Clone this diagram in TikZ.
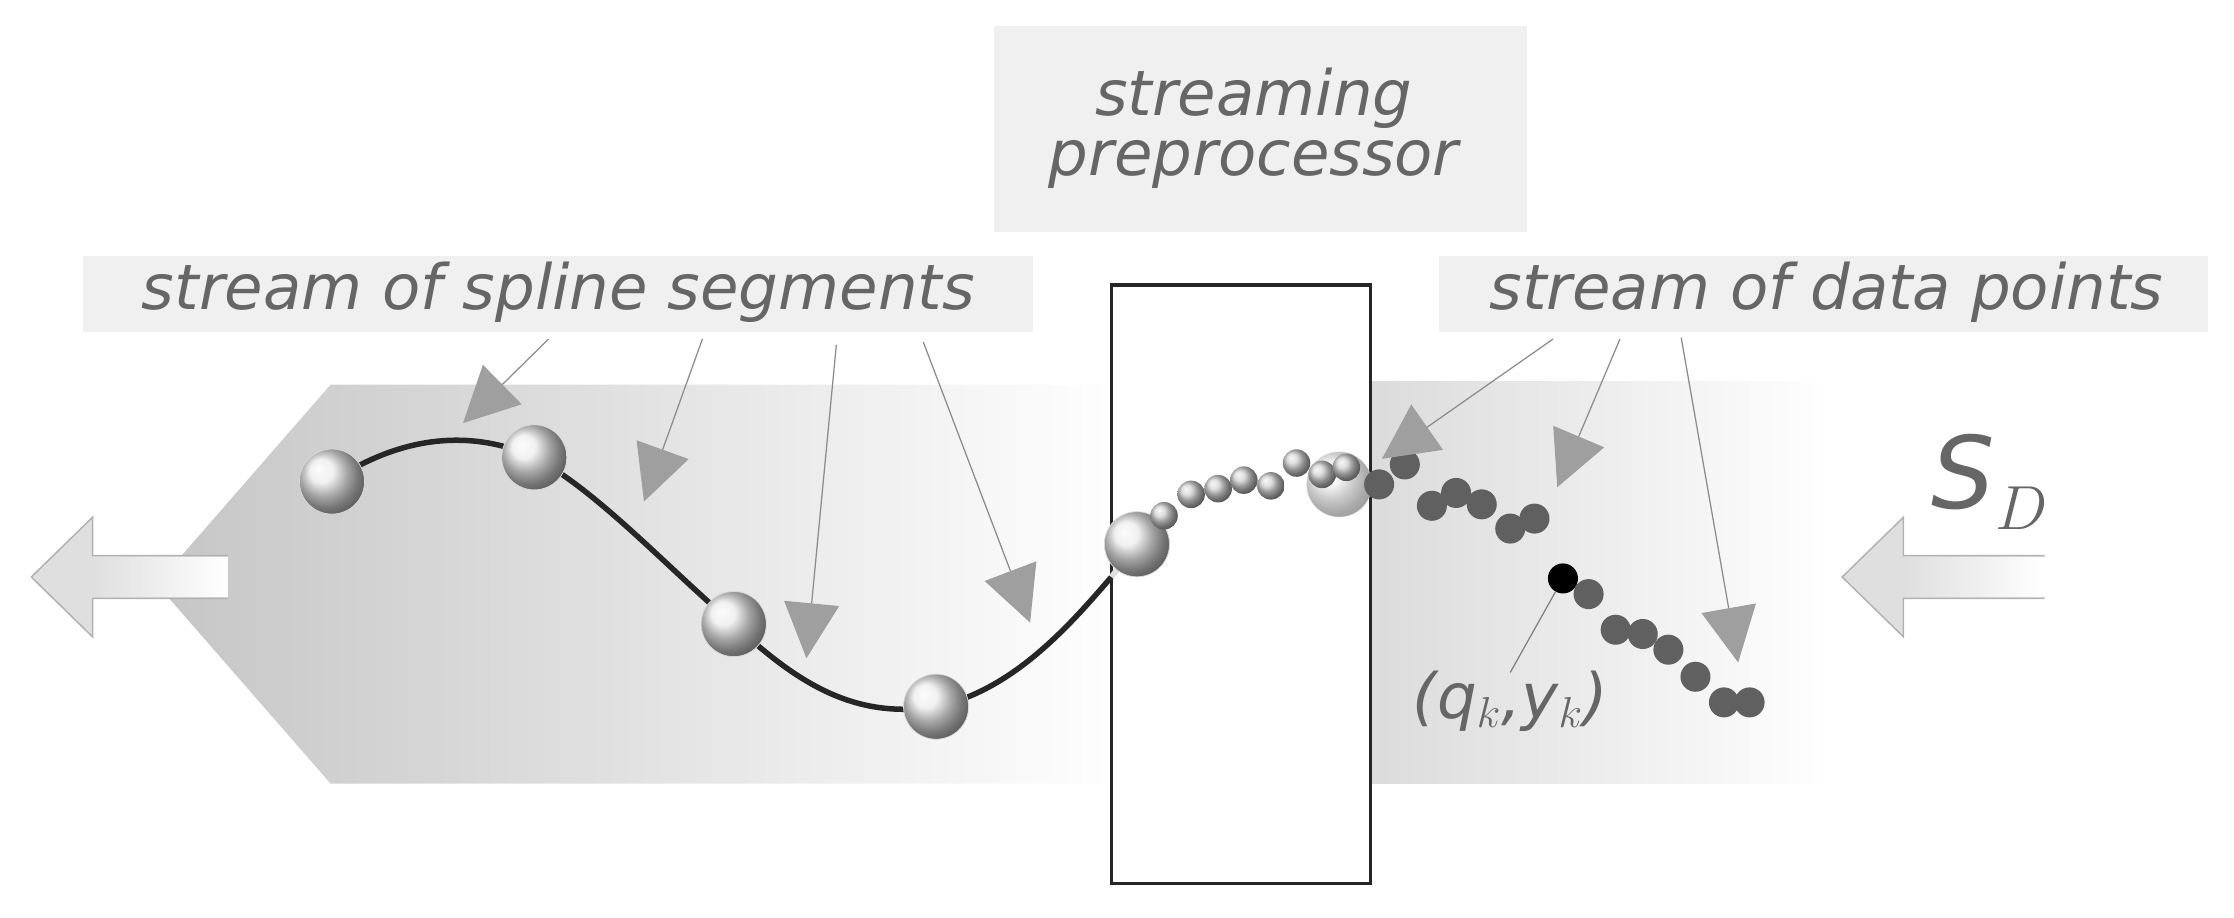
\documentclass[tikz,border=0pt]{standalone}
\usepackage{fontspec}
\setmainfont{DejaVu Sans}
\usetikzlibrary{arrows.meta}
\begin{document}
\begin{tikzpicture}[x=0.02cm,y=-0.02cm,
  lbl/.style={font=\fontsize{25}{30}\selectfont\itshape, text=gray!80!black},
  lblbox/.style={fill=gray!12},
  ptr/.style={draw=gray!90, line width=0.5pt, -{Triangle[width=22pt,length=22pt,color=gray!75,fill=gray!75]}},
  knot/.style={circle, minimum size=26, inner sep=0, ball color=gray!15, draw=gray!30, line width=0.3pt},
  sdot/.style={circle, minimum size=11, inner sep=0, ball color=gray!35},
  ddot/.style={circle, minimum size=12, inner sep=0, fill=gray!75!black},
  hollow/.style={draw=gray!60, fill=gray!25, line width=0.6pt}]
\useasboundingbox (0,0) rectangle (1568,644);
% background bands
\shade[left color=gray!45, right color=white] (110,410) -- (232,270) -- (790,270) -- (790,550) -- (232,550) -- cycle;
\shade[left color=gray!28, right color=white] (962,268) rectangle (1285,550);
% hollow arrows
\path[hollow] (160,390) -- (65,390) -- (65,363) -- (22,405) -- (65,447) -- (65,420) -- (160,420);
\shade[left color=gray!25,right color=white] (65,391) rectangle (160,419);
\path[hollow] (1435,390) -- (1336,390) -- (1336,363) -- (1293,405) -- (1336,447) -- (1336,420) -- (1435,420);
\shade[left color=gray!25,right color=white] (1337,391) rectangle (1435,419);
% label boxes
\fill[lblbox] (698,18) rectangle (1072,163);
\node[lbl, align=center] (title) at (880,90) {streaming\\[-6pt]preprocessor};
\fill[lblbox] (58,180) rectangle (725,233);
\node[lbl] (spl) at (392,205) {stream of spline segments};
\fill[lblbox] (1010,180) rectangle (1550,233);
\node[lbl] (dat) at (1282,205) {stream of data points};
% preprocessor box
\fill[white, opacity=0.7] (780,200) rectangle (962,620);
\draw[gray!30!black, line width=1.4pt] (780,200) rectangle (962,620);
% curve
\draw[line width=2.2pt, gray!30!black] (233,338) .. controls (290,300) and (340,305) .. (375,321)
  .. controls (420,345) and (470,400) .. (515,438)
  .. controls (560,480) and (600,505) .. (657,496)
  .. controls (710,485) and (750,440) .. (780,405);
\draw[line width=2.2pt, gray!25] (780,405) -- (798,382);
% knots
\foreach \n/\p in {k1/{(233,338)},k2/{(375,321)},k3/{(515,438)},k4/{(657,496)},k5/{(798,382)}}
  \node[knot] (\n) at \p {};
\node[knot, opacity=0.6] (k6) at (940,340) {};
% small dots
\foreach \i/\p in {1/{(817,362)},2/{(836,347)},3/{(855,343)},4/{(873,337)},5/{(892,341)},6/{(910,325)},7/{(928,333)},8/{(945,328)}}
  \node[sdot] (s\i) at \p {};
% data dots
\foreach \i/\p in {1/{(968,340)},2/{(986,326)},3/{(1005,355)},4/{(1022,346)},5/{(1040,354)},6/{(1060,371)},7/{(1077,364)},9/{(1115,417)},10/{(1134,442)},11/{(1153,445)},12/{(1171,456)},13/{(1190,475)},14/{(1210,493)},15/{(1228,493)}}
  \node[ddot] (d\i) at \p {};
\node[circle, minimum size=12, inner sep=0, fill=black] (d8) at (1097,406) {};
\node[font=\fontsize{25}{30}\selectfont\itshape, text=gray!80!black] (qy) at (1060,492) {(q$_k$,y$_k$)};
\draw[gray, line width=0.5pt] (d8) -- (1060,472);
\node[font=\fontsize{40}{48}\selectfont\itshape, text=gray!80!black] (sd) at (1397,338) {S$_D$};
% pointer arrows
\coordinate (a1) at (385,238); \coordinate (b1) at (325,297);
\coordinate (a2) at (493,238); \coordinate (b2) at (452,352);
\coordinate (a3) at (587,242); \coordinate (b3) at (566,462);
\coordinate (a4) at (648,240); \coordinate (b4) at (723,437);
\coordinate (a5) at (1090,238); \coordinate (b5) at (970,322);
\coordinate (a6) at (1137,238); \coordinate (b6) at (1093,342);
\coordinate (a7) at (1180,237); \coordinate (b7) at (1220,465);
\foreach \i in {1,...,7} \draw[ptr] (a\i) -- (b\i);
\end{tikzpicture}
\end{document}
